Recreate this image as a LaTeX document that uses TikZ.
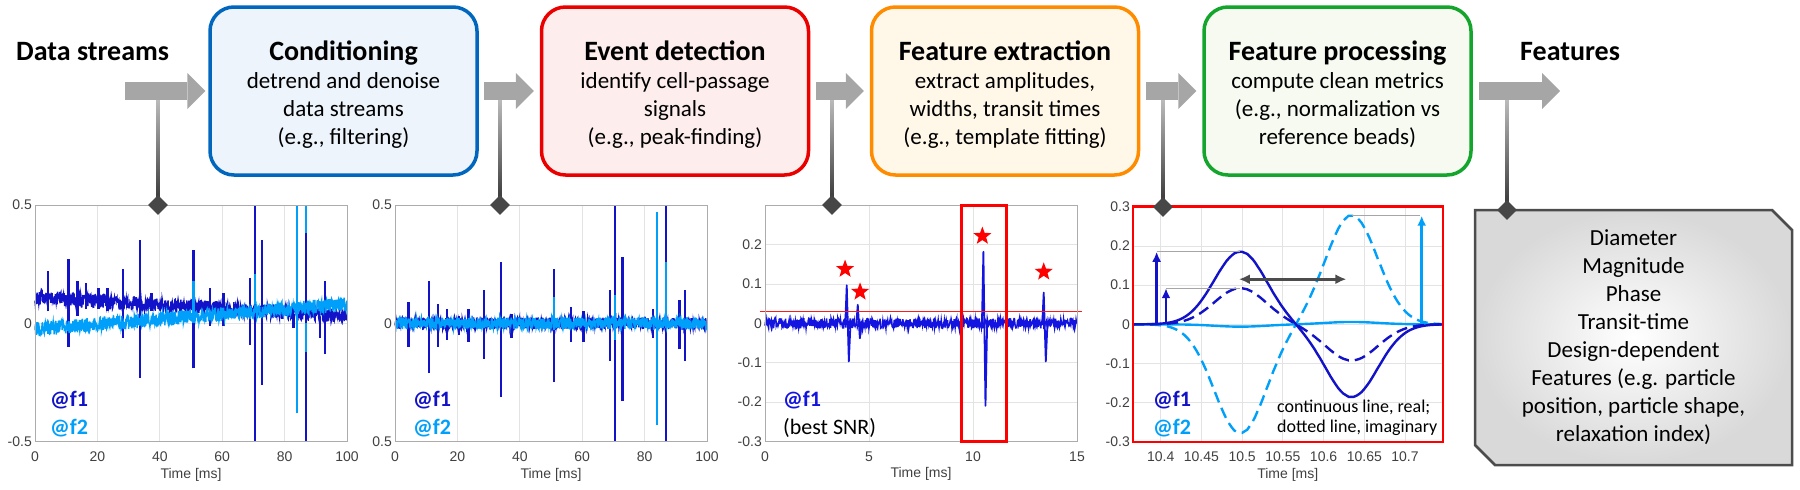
\documentclass[tikz,border=0pt]{standalone}
\usepackage{fontspec}
\setmainfont{Carlito}
\newfontfamily\axisfont{Liberation Sans}
\usetikzlibrary{positioning,arrows.meta,calc,shapes.geometric}

\definecolor{condblue}{RGB}{0,102,190}
\definecolor{condfill}{RGB}{237,244,252}
\definecolor{evtred}{RGB}{235,0,0}
\definecolor{evtfill}{RGB}{253,238,237}
\definecolor{extorange}{RGB}{255,140,0}
\definecolor{extfill}{RGB}{255,248,232}
\definecolor{procgreen}{RGB}{20,165,45}
\definecolor{procfill}{RGB}{246,250,240}
\definecolor{arrowgray}{RGB}{166,166,166}
\definecolor{fone}{RGB}{18,18,200}
\definecolor{ftwo}{RGB}{0,160,250}
\definecolor{sigblue}{RGB}{20,20,225}

\newcommand{\stagetitle}[1]{\rule{0pt}{27pt}{\fontsize{28}{28}\selectfont\bfseries #1}}

\tikzset{
  stagebox/.style={draw, rounded corners=24pt, line width=3.5pt, minimum width=267pt, minimum height=168pt, inner sep=0pt, align=center, font=\fontsize{23}{28}\selectfont},
  heading/.style={inner sep=0pt, font=\fontsize{28}{30}\selectfont\bfseries},
  flowarrow/.style={arrowgray, line width=18pt, -{Triangle[length=18pt, width=36pt, line width=0pt]}},
  stemshade/.style={top color=gray!45, bottom color=black!80},
  joint/.style={diamond, fill=black!72, minimum size=20pt, inner sep=0pt},
  featshape/.style={draw=black!70, line width=2.5pt, inner color=white, outer color=gray!30},
  featlist/.style={inner sep=0pt, align=center, font=\fontsize{23}{28}\selectfont},
  gridline/.style={gray!22, line width=0.8pt},
  axisframe/.style={gray!65, line width=0.9pt},
  redframe/.style={red, line width=2.6pt},
  hilite/.style={red, line width=3pt},
  thresh/.style={red!90, line width=1pt},
  xtick/.style={anchor=north, inner sep=0pt, yshift=-10pt, text=black!75, font=\axisfont\fontsize{14}{16}\selectfont},
  ytick/.style={anchor=east, inner sep=0pt, xshift=-3pt, text=black!75, font=\axisfont\fontsize{14}{16}\selectfont},
  axislabel/.style={inner sep=0pt, yshift=-33pt, text=black!75, font=\axisfont\fontsize{14}{16}\selectfont},
  fonenoise/.style={fone, line width=1.4pt},
  ftwonoise/.style={ftwo, line width=1.4pt},
  fonespike/.style={fone, line width=2.4pt},
  ftwospike/.style={ftwo, line width=2.4pt},
  signoise/.style={sigblue, line width=1.5pt},
  sigspike/.style={sigblue, line width=1.8pt, line join=round},
  starmark/.style={star, star points=5, star point ratio=2.4, fill=red, minimum size=19pt, inner sep=0pt},
  fonecurve/.style={fone, line width=2.4pt},
  ftwocurve/.style={ftwo, line width=2.4pt},
  imagdash/.style={dash pattern=on 11pt off 6pt},
  fonearrow/.style={fone, line width=2.6pt, -{Latex[length=10pt, width=9pt]}},
  ftwoarrow/.style={ftwo, line width=2.6pt, -{Latex[length=10pt, width=9pt]}},
  guide/.style={gray!70, line width=0.8pt},
  spanarrow/.style={black!70, line width=2.6pt, {Latex[length=11pt, width=10pt]}-{Latex[length=11pt, width=10pt]}},
  chantag/.style={anchor=west, inner sep=0pt, font=\fontsize{22}{24}\selectfont\bfseries},
  notetext/.style={anchor=west, inner sep=0pt, font=\fontsize{22}{24}\selectfont}
}

\begin{document}
\begin{tikzpicture}[x=1pt, y=-1pt, >=Latex]
\useasboundingbox (0,0) rectangle (1800,490);
\pgfmathsetseed{1234}

% processing chain
\node[heading, anchor=base west] (instream) at (16,60) {Data streams};
\node[stagebox, draw=condblue, fill=condfill] (cond) at (343.5,91) {\stagetitle{Conditioning}\\detrend and denoise\\data streams\\(e.g., filtering)};
\node[stagebox, draw=evtred, fill=evtfill] (evt) at (675,91) {\stagetitle{Event detection}\\identify cell-passage\\signals\\(e.g., peak-finding)};
\node[stagebox, draw=extorange, fill=extfill] (ext) at (1005,91) {\stagetitle{Feature extraction}\\extract amplitudes,\\widths, transit times\\(e.g., template fitting)};
\node[stagebox, draw=procgreen, fill=procfill] (proc) at (1337.5,91) {\stagetitle{Feature processing}\\compute clean metrics\\(e.g., normalization vs\\reference beads)};
\node[heading, anchor=base west] (outfeat) at (1520,60) {Features};

\coordinate (flowin) at (125,91);
\coordinate (flowout) at (1560,91);
\coordinate (j1) at (158,205);
\coordinate (j2) at (500,205);
\coordinate (j3) at (832,205);
\coordinate (j4) at (1163,207);
\coordinate (j5) at (1507,210);

% stems down to the plots
\foreach \jn in {j1,j2,j3,j4,j5}
  \shade[stemshade] ($(\jn)+(-1.6,0)$) rectangle ($(\jn |- flowin)+(1.6,0)$);

\draw[flowarrow] (flowin) -- ([xshift=-3pt]cond.west);
\draw[flowarrow] ([xshift=5pt]cond.east) -- ([xshift=-6pt]evt.west);
\draw[flowarrow] ([xshift=6pt]evt.east) -- ([xshift=-6pt]ext.west);
\draw[flowarrow] ([xshift=6pt]ext.east) -- ([xshift=-6pt]proc.west);
\draw[flowarrow] ([xshift=6pt]proc.east) -- (flowout);

% plot 1: raw streams
\begin{scope}[shift={(35,323.3)}, x=3.12pt, y=236.7pt]
  \foreach \tx in {20,40,60,80} \draw[gridline] (\tx,-0.5) -- (\tx,0.5);
  \draw[gridline] (0,0) -- (100,0);
  \draw[fonenoise] plot[domain=0:100, samples=1000] (\x,{0.11-0.0008*\x+0.03*rand});
  \foreach \sx/\hi/\lo in {4.1/0.22/0.05, 10.7/0.27/-0.10, 13.6/0.18/0.03, 16.4/0.17/0.06, 20.3/0.15/0.06, 23.2/0.15/0.05, 28.3/0.23/-0.06, 33.7/0.35/-0.23, 37.4/0.13/0.05, 50.8/0.31/-0.19, 56.1/0.15/-0.01, 60.4/0.13/-0.01, 69.0/0.19/-0.09, 70.6/0.5/-0.5, 72.7/0.35/-0.26, 82.9/0.04/-0.02, 86.8/0.5/-0.5, 91.4/0.03/-0.06, 93.0/0.18/-0.13}
    \draw[fonespike] (\sx,\lo) -- (\sx,\hi);
  \draw[ftwonoise] plot[domain=0:100, samples=1000] (\x,{-0.025+0.00105*\x+0.03*rand});
  \foreach \sx/\hi/\lo in {84/0.5/-0.38, 50.8/0.18/0.0, 70.6/0.21/0.08, 86.8/0.5/0.38, 86.8/0.0/-0.12}
    \draw[ftwospike] (\sx,\lo) -- (\sx,\hi);
  \draw[axisframe] (0,-0.5) rectangle (100,0.5);
  \foreach \tx in {0,20,...,100} \node[xtick] at (\tx,-0.5) {\tx};
  \foreach \yv/\lab in {0.5/0.5,0/0,-0.5/-0.5} \node[ytick] at (0,\yv) {\lab};
  \node[axislabel] (timeA) at (50,-0.5) {Time [ms]};
\end{scope}
\node[chantag, text=fone] (tagA1) at (50,400) {@f1};
\node[chantag, text=ftwo] (tagA2) at (50,428) {@f2};

% plot 2: conditioned streams
\begin{scope}[shift={(395,323.3)}, x=3.12pt, y=236.7pt]
  \foreach \tx in {20,40,60,80} \draw[gridline] (\tx,-0.5) -- (\tx,0.5);
  \draw[gridline] (0,0) -- (100,0);
  \draw[fonenoise] plot[domain=0:100, samples=1000] (\x,{0.025*rand});
  \foreach \sx/\hi/\lo in {4.3/0.09/-0.10, 10.9/0.18/-0.21, 13.7/0.08/-0.10, 16.6/0.06/-0.07, 20.5/0.03/-0.05, 23.5/0.06/-0.08, 28.6/0.14/-0.15, 33.9/0.26/-0.31, 37.4/0.04/-0.06, 51.0/0.23/-0.25, 56.4/0.07/-0.08, 60.4/0.05/-0.08, 69.0/0.14/-0.16, 70.6/0.5/-0.5, 72.9/0.28/-0.33, 82.7/0.06/-0.06, 86.8/0.5/-0.5, 91.2/0.10/-0.11, 93.0/0.14/-0.16}
    \draw[fonespike] (\sx,\lo) -- (\sx,\hi);
  \draw[ftwonoise] plot[domain=0:100, samples=1000] (\x,{0.025*rand});
  \foreach \sx/\hi/\lo in {84/0.47/-0.43, 51.0/0.11/-0.03, 70.6/0.12/-0.07, 86.8/0.26/0.0}
    \draw[ftwospike] (\sx,\lo) -- (\sx,\hi);
  \draw[axisframe] (0,-0.5) rectangle (100,0.5);
  \foreach \tx in {0,20,...,100} \node[xtick] at (\tx,-0.5) {\tx};
  \foreach \yv/\lab in {0.5/0.5,0/0,-0.5/0.5} \node[ytick] at (0,\yv) {\lab};
  \node[axislabel] (timeB) at (50,-0.5) {Time [ms]};
\end{scope}
\node[chantag, text=fone] (tagB1) at (413,400) {@f1};
\node[chantag, text=ftwo] (tagB2) at (413,428) {@f2};

% plot 3: detected events
\begin{scope}[shift={(765,323.3)}, x=20.8pt, y=393pt]
  \foreach \tx in {5,10} \draw[gridline] (\tx,-0.3) -- (\tx,0.3);
  \foreach \yv in {-0.2,-0.1,0,0.1,0.2} \draw[gridline] (0,\yv) -- (15,\yv);
  \draw[signoise] plot[domain=0:15, samples=700] (\x,{0.013*rand});
  \foreach \sx/\hi/\lo in {3.93/0.097/-0.097, 4.46/0.047/-0.038, 10.5/0.182/-0.21, 13.4/0.078/-0.097}
    \draw[sigspike] (\sx-0.07,0) -- (\sx,\hi) -- (\sx+0.1,\lo) -- (\sx+0.18,0);
  \draw[sigspike] (9.3,0) -- (9.4,-0.03) -- (9.5,0);
  \draw[thresh] (-0.25,0.03) -- (15.25,0.03);
  \draw[axisframe] (0,-0.3) rectangle (15,0.3);
  \draw[hilite] (9.47,-0.3) rectangle (11.63,0.3);
  \node[starmark] (star1) at (3.85,0.138) {};
  \node[starmark] (star2) at (4.57,0.08) {};
  \node[starmark] (star3) at (10.45,0.222) {};
  \node[starmark] (star4) at (13.4,0.131) {};
  \foreach \tx in {0,5,10,15} \node[xtick] at (\tx,-0.3) {\tx};
  \foreach \yv in {0.2,0.1,0,-0.1,-0.2,-0.3} \node[ytick] at (0,\yv) {\yv};
  \node[axislabel] (timeC) at (7.5,-0.3) {Time [ms]};
\end{scope}
\node[chantag, text=sigblue] (tagC1) at (783,400) {@f1};
\node[notetext] (tagC2) at (783,428) {(best SNR)};

% plot 4: template fit of one event
\begin{scope}[shift={(1160.7,324.3)}, x=814.4pt, y=392pt,
  declare function={bip(\t)=exp(max(-9,0-(\t-0.0976)*(\t-0.0976)/0.002025))-exp(max(-9,0-(\t-0.2345)*(\t-0.2345)/0.002025));}]
  \foreach \tx in {0,0.05,0.1,0.15,0.2,0.25,0.3} \draw[gridline] (\tx,-0.3) -- (\tx,0.3);
  \foreach \yv in {-0.2,-0.1,0,0.1,0.2} \draw[gridline] (-0.034,\yv) -- (0.3466,\yv);
  \draw[ftwocurve] plot[domain=-0.034:0.3466, samples=120] (\x,{-0.006*bip(\x)});
  \draw[ftwocurve, imagdash] plot[domain=-0.034:0.3466, samples=120] (\x,{-0.277*bip(\x)});
  \draw[fonecurve, imagdash] plot[domain=-0.034:0.3466, samples=120] (\x,{0.092*bip(\x)});
  \draw[fonecurve] plot[domain=-0.034:0.3466, samples=120] (\x,{0.185*bip(\x)});
  \draw[guide] (-0.005,0.185) -- (0.0976,0.185);
  \draw[guide] (0.0065,0.092) -- (0.0976,0.092);
  \draw[guide] (0.2345,0.277) -- (0.3185,0.277);
  \draw[fonearrow] (-0.005,0) -- (-0.005,0.185);
  \draw[fonearrow] (0.0065,0) -- (0.0065,0.092);
  \draw[ftwoarrow] (0.3205,0) -- (0.3205,0.277);
  \draw[spanarrow] (0.096,0.115) -- (0.228,0.115);
  \draw[redframe] (-0.034,-0.3) rectangle (0.3466,0.3);
  \foreach \tx/\lab in {0/10.4,0.05/10.45,0.1/10.5,0.15/10.55,0.2/10.6,0.25/10.65,0.3/10.7}
    \node[xtick] at (\tx,-0.3) {\lab};
  \foreach \yv in {0.3,0.2,0.1,0,-0.1,-0.2,-0.3} \node[ytick] at (-0.034,\yv) {\yv};
  \node[axislabel] (timeD) at (0.156,-0.3) {Time [ms]};
\end{scope}
\node[chantag, text=fone] (tagD1) at (1153,400) {@f1};
\node[chantag, text=ftwo] (tagD2) at (1153,428) {@f2};
\node[notetext, align=left, font=\fontsize{18}{20}\selectfont] (legend) at (1277,418) {continuous line, real;\\dotted line, imaginary};

% resulting features
\shadedraw[featshape] (1475,210) -- (1772,210) -- (1792,230) -- (1792,465) -- (1495,465) -- (1475,445) -- cycle;
\node[featlist] (feats) at (1633.5,337.5) {Diameter\\Magnitude\\Phase\\Transit-time\\Design-dependent\\Features (e.g. particle\\position, particle shape,\\relaxation index)};

\foreach \jn in {j1,j2,j3,j4,j5}
  \node[joint] (\jn-d) at (\jn) {};
\end{tikzpicture}
\end{document}
